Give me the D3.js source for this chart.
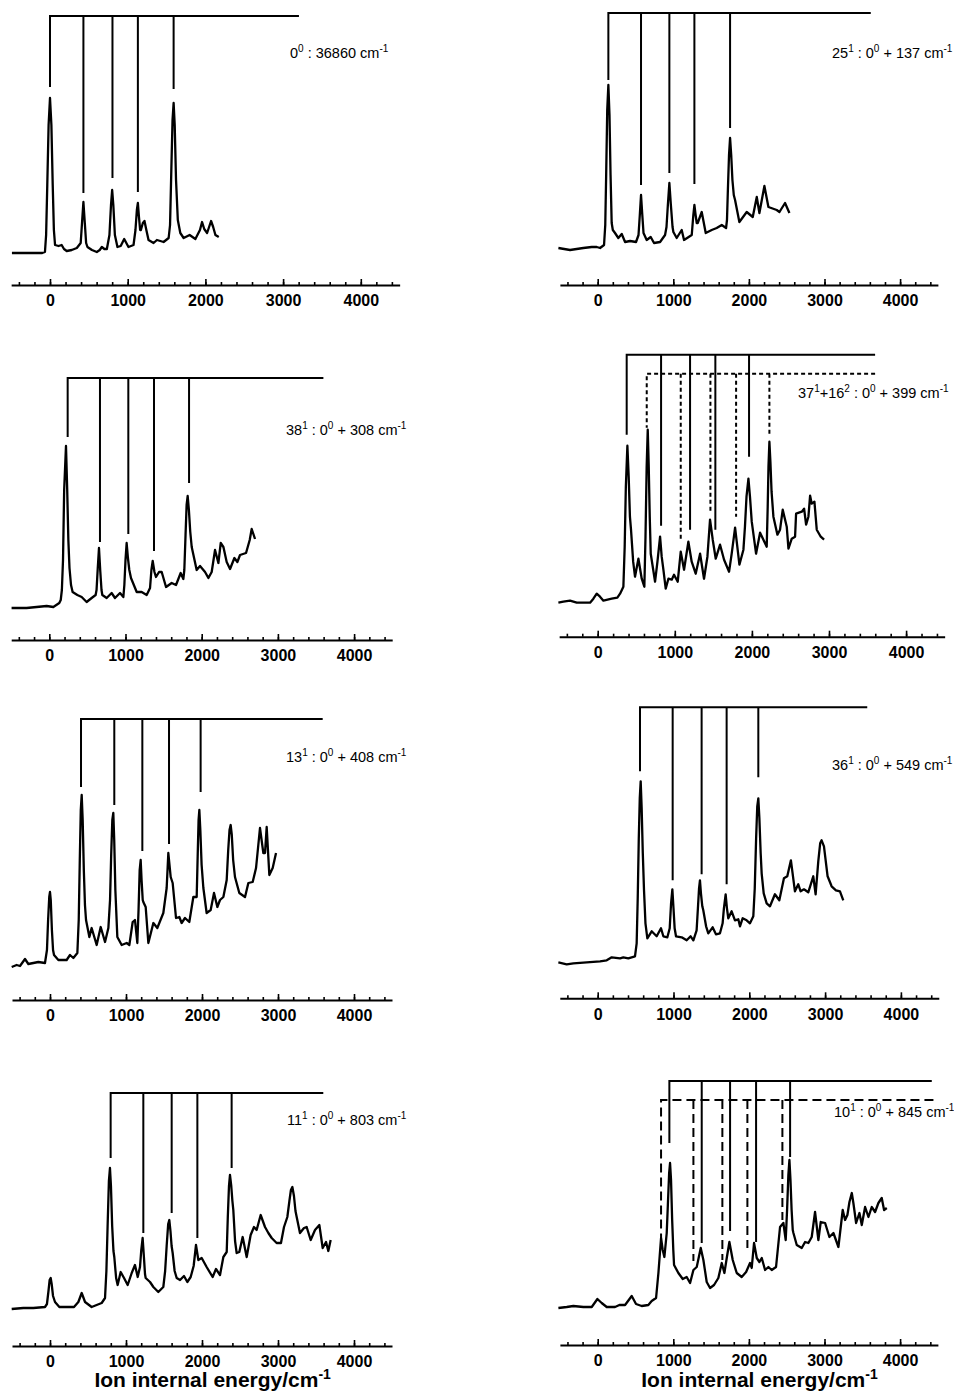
<!DOCTYPE html>
<html>
<head>
<meta charset="utf-8">
<script src="https://cdn.jsdelivr.net/npm/d3@7"></script>
<style>
body {margin: 0; background: #fff;}
svg {display: block;}
</style>
</head>
<body>
<div id="app"></div>
<script>
// Spectra: [ion internal energy (cm-1), signal (arb. units)].
var spec0 = [[-490,32],[-300,32],[-100,32],[-65,33],[-50,50],[-35,100],[-18,160],[0,187],[18,160],[35,100],[50,55],[65,40],[110,39],[150,40],[180,36],[215,34],[280,35],[345,37],[395,42],[412,62],[430,83],[448,62],[465,42],[482,38],[540,35],[602,33],[640,35],[667,38],[700,36],[732,36],[765,50],[785,80],[800,95],[815,80],[835,50],[868,38],[910,39],[955,46],[1010,38],[1075,40],[1100,55],[1118,75],[1131,82],[1145,68],[1160,55],[1170,55],[1195,62],[1216,64],[1240,55],[1268,45],[1333,42],[1376,45],[1420,44],[1462,43],[1527,47],[1545,60],[1560,110],[1577,165],[1591,182],[1605,160],[1622,105],[1645,65],[1677,52],[1720,47],[1797,50],[1871,46],[1930,55],[1957,63],[1985,56],[2022,52],[2073,64],[2100,58],[2129,50],[2172,48]];
var spec1 = [[-520,37],[-366,35],[-190,37],[-79,38],[-13,38],[31,37],[84,40],[100,60],[112,110],[126,175],[141,200],[156,170],[170,110],[185,62],[200,55],[229,52],[273,47],[318,51],[362,43],[428,44],[507,43],[540,50],[557,70],[573,90],[590,70],[606,52],[648,45],[701,48],[745,42],[825,43],[891,50],[910,58],[928,80],[948,102],[968,80],[990,58],[1001,53],[1045,47],[1111,55],[1142,45],[1244,50],[1265,70],[1279,80],[1295,70],[1310,62],[1323,62],[1376,73],[1429,52],[1508,55],[1574,57],[1641,60],[1698,57],[1710,65],[1722,95],[1737,130],[1751,147],[1766,130],[1782,105],[1800,90],[1817,85],[1874,63],[1971,73],[2051,68],[2104,88],[2139,72],[2205,99],[2258,78],[2368,75],[2404,73],[2478,82],[2536,72]];
var spec2 = [[-495,32],[-298,32],[-35,34],[53,33],[131,37],[150,40],[165,50],[180,80],[195,150],[219,194],[235,150],[250,100],[265,72],[285,55],[306,48],[368,45],[425,43],[490,38],[556,42],[608,45],[620,50],[636,72],[652,92],[668,70],[685,50],[696,45],[753,42],[818,47],[862,42],[928,47],[972,43],[985,55],[1000,80],[1015,97],[1032,82],[1050,70],[1072,62],[1147,48],[1212,48],[1278,45],[1322,52],[1340,70],[1357,79],[1380,68],[1400,63],[1440,68],[1475,68],[1532,53],[1606,57],[1663,55],[1724,67],[1759,61],[1772,70],[1788,105],[1802,135],[1816,144],[1832,130],[1850,108],[1869,93],[1934,70],[1978,74],[2044,68],[2088,62],[2131,68],[2175,90],[2219,77],[2250,97],[2285,93],[2328,78],[2372,71],[2429,82],[2468,78],[2503,85],[2582,87],[2630,100],[2656,111],[2700,101]];
var spec3 = [[-510,34],[-445,35],[-359,36],[-272,34],[-99,34],[-56,38],[-13,43],[30,40],[74,36],[182,38],[255,39],[290,43],[333,50],[350,90],[365,150],[385,191],[402,160],[418,120],[432,107],[460,75],[484,60],[528,78],[571,58],[605,50],[620,100],[635,170],[649,207],[662,170],[675,120],[688,83],[744,55],[775,75],[809,100],[830,80],[852,67],[882,48],[917,58],[960,57],[990,62],[1038,55],[1077,85],[1120,67],[1176,95],[1219,75],[1271,63],[1328,83],[1379,58],[1423,80],[1457,117],[1492,97],[1531,78],[1587,92],[1639,77],[1704,65],[1738,83],[1782,109],[1838,72],[1890,87],[1910,110],[1930,140],[1955,158],[1975,140],[1998,115],[2054,83],[2106,104],[2149,97],[2192,90],[2205,130],[2215,170],[2227,195],[2240,175],[2255,145],[2279,120],[2331,102],[2365,107],[2400,127],[2452,110],[2474,88],[2517,98],[2560,100],[2573,123],[2647,125],[2677,128],[2703,112],[2733,120],[2755,141],[2776,133],[2811,135],[2841,107],[2893,100],[2936,97]];
var spec4 = [[-504,33],[-439,35],[-395,34],[-329,41],[-285,36],[-219,37],[-154,38],[-66,37],[-40,50],[-25,80],[-10,103],[0,108],[10,100],[25,70],[40,50],[53,45],[110,40],[219,40],[263,45],[307,42],[360,47],[378,80],[392,140],[405,190],[417,205],[430,180],[445,130],[460,95],[474,80],[518,63],[548,72],[614,55],[667,73],[724,58],[768,72],[790,100],[805,145],[820,180],[833,187],[845,160],[860,110],[886,63],[943,55],[1009,57],[1044,55],[1088,78],[1118,80],[1149,57],[1165,90],[1180,130],[1193,140],[1205,120],[1220,100],[1228,98],[1259,93],[1294,57],[1360,77],[1412,72],[1491,87],[1535,112],[1557,147],[1588,123],[1614,117],[1658,82],[1702,83],[1732,77],[1776,82],[1833,78],[1886,103],[1930,103],[1945,150],[1955,180],[1965,190],[1978,170],[1995,135],[2018,112],[2061,87],[2114,90],[2158,107],[2202,93],[2237,100],[2281,103],[2325,120],[2345,150],[2362,170],[2377,175],[2392,165],[2410,140],[2434,123],[2491,107],[2566,103],[2610,117],[2667,118],[2711,132],[2763,172],[2807,147],[2829,147],[2851,173],[2886,125],[2930,132],[2974,147]];
var spec5 = [[-519,36],[-409,34],[-321,35],[-145,36],[31,37],[119,38],[185,41],[295,40],[338,41],[404,40],[492,42],[514,55],[528,100],[542,160],[555,200],[567,217],[580,190],[595,145],[611,108],[630,75],[655,60],[712,67],[778,62],[835,70],[866,62],[919,61],[950,70],[968,95],[985,109],[1000,90],[1015,70],[1033,62],[1108,61],[1174,58],[1226,62],[1262,58],[1305,68],[1322,90],[1337,110],[1349,118],[1362,105],[1380,92],[1393,88],[1430,72],[1459,65],[1516,71],[1560,64],[1613,65],[1648,75],[1665,90],[1688,104],[1705,90],[1723,80],[1767,87],[1811,78],[1855,79],[1877,72],[1912,80],[1965,78],[2009,75],[2053,82],[2072,110],[2090,160],[2105,192],[2119,200],[2133,180],[2150,145],[2163,125],[2190,105],[2229,95],[2273,92],[2338,104],[2396,98],[2457,120],[2501,122],[2549,138],[2602,107],[2646,114],[2677,107],[2721,109],[2778,106],[2844,122],[2875,104],[2910,137],[2935,155],[2954,158],[2985,152],[3033,122],[3086,112],[3143,108],[3196,107],[3240,98]];
var spec6 = [[-504,37],[-351,38],[-219,38],[-66,39],[-40,42],[-20,55],[-5,66],[9,68],[22,62],[40,50],[66,44],[123,39],[219,39],[316,39],[373,44],[417,53],[461,44],[548,39],[614,41],[680,43],[724,48],[742,75],[758,120],[775,165],[789,178],[802,160],[818,120],[835,95],[846,89],[870,68],[890,61],[930,74],[974,68],[1022,61],[1075,73],[1118,81],[1154,69],[1184,79],[1200,95],[1219,108],[1235,90],[1250,72],[1259,68],[1316,64],[1360,59],[1425,54],[1491,59],[1515,75],[1535,100],[1555,122],[1570,126],[1585,115],[1600,100],[1614,93],[1640,75],[1667,68],[1711,66],[1763,70],[1807,64],[1851,69],[1890,80],[1921,101],[1952,86],[1996,88],[2061,79],[2140,69],[2184,77],[2237,71],[2281,89],[2325,94],[2340,130],[2355,160],[2368,171],[2385,160],[2400,145],[2412,136],[2435,105],[2456,93],[2491,94],[2535,109],[2588,89],[2640,111],[2684,119],[2719,116],[2772,131],[2829,119],[2873,113],[2917,108],[2982,103],[3039,103],[3079,119],[3123,129],[3150,145],[3170,156],[3189,159],[3210,150],[3230,135],[3246,129],[3289,113],[3342,118],[3377,119],[3430,106],[3487,116],[3544,121],[3588,98],[3632,104],[3662,95],[3693,106]];
var spec7 = [[-520,37],[-410,38],[-322,39],[-190,38],[-79,38],[-4,46],[53,42],[119,38],[229,38],[287,40],[362,40],[450,49],[507,41],[582,39],[670,40],[714,44],[772,47],[803,72],[838,107],[860,95],[882,88],[913,112],[928,140],[945,172],[957,182],[970,165],[985,125],[1000,95],[1010,80],[1067,72],[1125,66],[1177,68],[1222,62],[1266,75],[1310,78],[1363,97],[1398,85],[1442,63],[1486,57],[1539,60],[1596,67],[1641,82],[1676,72],[1707,87],[1742,103],[1786,85],[1839,72],[1905,68],[1963,73],[2015,82],[2037,77],[2068,102],[2104,87],[2139,83],[2170,87],[2214,75],[2258,78],[2302,75],[2359,78],[2412,118],[2456,122],[2487,105],[2505,135],[2522,170],[2536,185],[2550,165],[2565,135],[2580,115],[2589,112],[2633,100],[2699,97],[2743,103],[2787,102],[2831,108],[2875,133],[2919,105],[2950,123],[3008,122],[3065,108],[3118,112],[3184,98],[3241,135],[3272,125],[3303,130],[3330,143],[3361,152],[3382,142],[3418,122],[3462,132],[3493,120],[3537,138],[3581,128],[3625,138],[3669,133],[3713,142],[3757,147],[3788,135],[3824,137]];

// Progression combs: bar level, bar end energy, and [energy, lower end] of each tooth.
var comb0 = {top: 269, end: 3204, teeth: [[0,198],[430,92],[804,107],[1131,93],[1591,196]]};
var comb1 = {top: 272, end: 3612, teeth: [[141,205],[573,100],[948,112],[1279,101],[1751,157]]};
var comb2 = {top: 262, end: 3597, teeth: [[241,203],[665,98],[1037,106],[1374,89],[1834,157]]};
var comb3 = {top: 282, end: 3598, teeth: [[376,202],[822,111],[1198,107],[1526,107],[1963,180]]};
var comb3b = {top: 263, end: 3598, teeth: [[636,209],[1077,96],[1462,123],[1795,120],[2227,200]]};
var comb4 = {top: 281, end: 3588, teeth: [[408,213],[846,195],[1215,149],[1566,156],[1982,208]]};
var comb5 = {top: 291, end: 3556, teeth: [[558,227],[989,118],[1371,124],[1701,114],[2119,221]]};
var comb6 = {top: 253, end: 3596, teeth: [[798,188],[1228,113],[1601,133],[1939,108],[2390,178]]};
var comb7 = {top: 264, end: 4419, teeth: [[948,202],[1376,102],[1751,114],[2095,103],[2545,188]]};
var comb7b = {top: 245, end: 4441, teeth: [[838,107],[1266,84],[1649,85],[1980,97],[2443,125]]};

// Labels: [text, superscript?]
var label0 = [["0"],["0",1],[" : 36860 cm"],["-1",1]];
var label1 = [["25"],["1",1],[" : 0"],["0",1],[" + 137 cm"],["-1",1]];
var label2 = [["38"],["1",1],[" : 0"],["0",1],[" + 308 cm"],["-1",1]];
var label3 = [["37"],["1",1],["+16"],["2",1],[" : 0"],["0",1],[" + 399 cm"],["-1",1]];
var label4 = [["13"],["1",1],[" : 0"],["0",1],[" + 408 cm"],["-1",1]];
var label5 = [["36"],["1",1],[" : 0"],["0",1],[" + 549 cm"],["-1",1]];
var label6 = [["11"],["1",1],[" : 0"],["0",1],[" + 803 cm"],["-1",1]];
var label7 = [["10"],["1",1],[" : 0"],["0",1],[" + 845 cm"],["-1",1]];

var minorTicks = d3.range(-400, 4401, 200);
var majorTicks = [0, 1000, 2000, 3000, 4000];
var axisTitle = [["Ion internal energy/cm"],["-1",1]];

var width = 954, height = 1393;
var font = "'Liberation Sans', Arial, sans-serif";

// Panel placement: pixel of 0 and 4000 cm-1, axis line y, label anchor.
var panels = [
	{spec: spec0, combs: [[comb0, null]], label: label0, x0: 50, x4: 360.8, ay: 285, lx: 290, ly: 58},
	{spec: spec1, combs: [[comb1, null]], label: label1, x0: 597.7, x4: 900.1, ay: 285, lx: 832, ly: 58},
	{spec: spec2, combs: [[comb2, null]], label: label2, x0: 49.3, x4: 354.1, ay: 640, lx: 286, ly: 435},
	{spec: spec3, combs: [[comb3, null], [comb3b, "4,3"]], label: label3, x0: 597.7, x4: 906.1, ay: 636.7, lx: 798, ly: 398},
	{spec: spec4, combs: [[comb4, null]], label: label4, x0: 50, x4: 354, ay: 1000, lx: 286, ly: 762},
	{spec: spec5, combs: [[comb5, null]], label: label5, x0: 597.7, x4: 900.9, ay: 998.3, lx: 832, ly: 770},
	{spec: spec6, combs: [[comb6, null]], label: label6, x0: 50, x4: 354, ay: 1346, lx: 287, ly: 1125, title: true},
	{spec: spec7, combs: [[comb7, null], [comb7b, "9,5"]], label: label7, x0: 597.7, x4: 900.1, ay: 1345, lx: 834, ly: 1117, title: true}
];

var svg = d3.select("#app").append("svg")
	.attr("width", width).attr("height", height);

function addRichText (g, parts, size)
{
	var shift = Math.round(size * 0.4);
	var raised = false;
	parts.forEach(function (p)
	{
		var t = g.append("tspan").text(p[0]);
		if (p[1])
		{
			t.attr("font-size", Math.round(size * 0.68)).attr("dy", raised ? 0 : -shift);
			raised = true;
		}
		else
		{
			t.attr("dy", raised ? shift : 0);
			raised = false;
		}
	});
}

function drawPanel (p)
{
	var k = (p.x4 - p.x0) / 4000;
	var x = d3.scaleLinear().domain([-500, 4500]).range([p.x0 - 500 * k, p.x0 + 4500 * k]);
	var y = d3.scaleLinear().domain([0, 300]).range([p.ay, p.ay - 300]);
	var g = svg.append("g");

	// Minor and major ticks, pointing up.
	var gMinor = g.append("g").attr("transform", "translate(0," + p.ay + ")")
		.call(d3.axisBottom(x).tickValues(minorTicks).tickSize(-3).tickSizeOuter(0).tickFormat(""));
	var gMajor = g.append("g").attr("transform", "translate(0," + p.ay + ")")
		.call(d3.axisBottom(x).tickValues(majorTicks).tickSize(-6).tickSizeOuter(0).tickPadding(10).tickFormat(d3.format("d")));
	gMinor.select(".domain").attr("stroke-width", 2);
	gMajor.select(".domain").remove();
	g.selectAll(".tick line").attr("stroke-width", 1.6);
	gMajor.selectAll("text")
		.attr("font-family", font).attr("font-weight", "bold").attr("font-size", 16).attr("fill", "#000");

	// Spectrum trace.
	var line = d3.line().x(function (d) {return x(d[0]);}).y(function (d) {return y(d[1]);});
	g.append("path").datum(p.spec)
		.attr("d", line)
		.attr("fill", "none").attr("stroke", "#000")
		.attr("stroke-width", 2.3).attr("stroke-linejoin", "round");

	// Progression combs.
	p.combs.forEach(function (c)
	{
		var comb = c[0], first = comb.teeth[0];
		var d = "M" + x(comb.end) + "," + y(comb.top) + "H" + x(first[0]) + "V" + y(first[1]);
		comb.teeth.slice(1).forEach(function (t)
		{
			d += "M" + x(t[0]) + "," + y(comb.top) + "V" + y(t[1]);
		});
		g.append("path").attr("d", d)
			.attr("fill", "none").attr("stroke", "#000").attr("stroke-width", 2)
			.attr("stroke-dasharray", c[1]);
	});

	var lab = g.append("text").attr("x", p.lx).attr("y", p.ly)
		.attr("font-family", font).attr("font-size", 14.5).attr("fill", "#000");
	addRichText(lab, p.label, 14.5);

	if (p.title)
	{
		var tt = g.append("text").attr("x", x(2140)).attr("y", 1387)
			.attr("text-anchor", "middle")
			.attr("font-family", font).attr("font-weight", "bold").attr("font-size", 21).attr("fill", "#000");
		addRichText(tt, axisTitle, 21);
	}
}

panels.forEach(drawPanel);
</script>
</body>
</html>
